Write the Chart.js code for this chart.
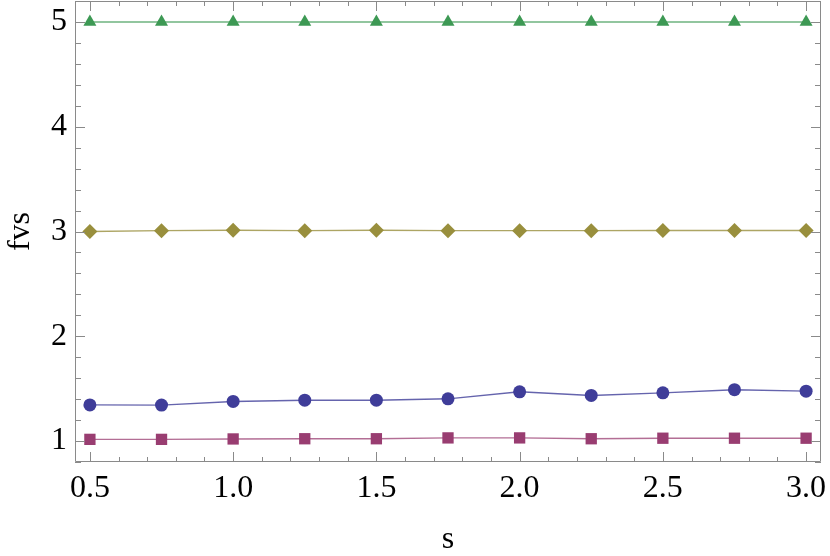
<!DOCTYPE html>
<html>
<head>
<meta charset="utf-8">
<script src="https://cdn.jsdelivr.net/npm/chart.js@4"></script>
<style>
  html, body { margin: 0; padding: 0; background: #fff; }
  #wrap { width: 830px; height: 556px; }
</style>
</head>
<body>
<div id="wrap"><canvas id="myChart" width="830" height="556"></canvas></div>
<script>
// data
const sValues = [0.5, 0.75, 1.0, 1.25, 1.5, 1.75, 2.0, 2.25, 2.5, 2.75, 3.0];
const circleSeries = [1.345, 1.343, 1.378, 1.39, 1.39, 1.403, 1.47, 1.435, 1.46, 1.49, 1.476];
const squareSeries = [1.016, 1.016, 1.02, 1.022, 1.022, 1.03, 1.03, 1.022, 1.027, 1.027, 1.027];
const diamondSeries = [3.0, 3.008, 3.012, 3.008, 3.012, 3.008, 3.008, 3.008, 3.01, 3.01, 3.01];
const triangleSeries = [5, 5, 5, 5, 5, 5, 5, 5, 5, 5, 5];

const xTickLabels = [0.5, 1.0, 1.5, 2.0, 2.5, 3.0];
const yTickLabels = [1, 2, 3, 4, 5];
const xMinorStep = 0.1;
const yMinorStep = 0.2;

const fontFamily = "'Liberation Serif', 'DejaVu Serif', serif";

function toPoints(values) {
  return sValues.map((s, i) => ({ x: s, y: values[i] }));
}

function makeDataset(label, values, color, lineColor, style, radius) {
  return {
    label: label,
    data: toPoints(values),
    borderColor: lineColor,
    borderWidth: 1.4,
    backgroundColor: color,
    pointBackgroundColor: color,
    pointBorderColor: color,
    pointBorderWidth: 0,
    pointStyle: style,
    pointRadius: radius,
    pointHoverRadius: radius,
    tension: 0,
    clip: false
  };
}

// kill the label overflow padding so the frame sits where we want it
function noPadding(scale) {
  scale.paddingTop = 0;
  scale.paddingBottom = 0;
  scale.paddingLeft = 0;
  scale.paddingRight = 0;
}

// frame with inward ticks on all four sides (Mathematica look)
const frameTicks = {
  id: 'frameTicks',
  afterDatasetsDraw(chart) {
    const { ctx, chartArea, scales } = chart;
    const { left, right, top, bottom } = chartArea;
    ctx.save();
    ctx.strokeStyle = '#8a8a8a';
    ctx.lineWidth = 1;
    ctx.beginPath();
    ctx.rect(left + 0.5, top + 0.5, right - left - 1, bottom - top - 1);
    ctx.stroke();

    ctx.beginPath();
    const xs = scales.x;
    for (let v = Math.ceil(xs.min / xMinorStep) * xMinorStep; v <= xs.max + 1e-9; v += xMinorStep) {
      const isMajor = xTickLabels.some(t => Math.abs(t - v) < 1e-6);
      const len = isMajor ? 10 : 5;
      const px = Math.round(xs.getPixelForValue(v)) + 0.5;
      ctx.moveTo(px, bottom);
      ctx.lineTo(px, bottom - len);
      ctx.moveTo(px, top);
      ctx.lineTo(px, top + len);
    }
    const ys = scales.y;
    for (let v = Math.ceil(ys.min / yMinorStep - 1e-9) * yMinorStep; v <= ys.max + 1e-9; v += yMinorStep) {
      const isMajor = yTickLabels.some(t => Math.abs(t - v) < 1e-6);
      const len = isMajor ? 10 : 6;
      const py = Math.round(ys.getPixelForValue(v)) + 0.5;
      ctx.moveTo(left, py);
      ctx.lineTo(left + len, py);
      ctx.moveTo(right, py);
      ctx.lineTo(right - len, py);
    }
    ctx.stroke();
    ctx.restore();
  }
};

const config = {
  type: 'line',
  data: {
    datasets: [
      makeDataset('circles', circleSeries, '#3f3d99', 'rgba(63, 61, 153, 0.8)', 'circle', 6.5),
      makeDataset('squares', squareSeries, '#993d71', 'rgba(153, 61, 113, 0.75)', 'rect', 8),
      makeDataset('diamonds', diamondSeries, '#998f3d', 'rgba(153, 143, 61, 0.8)', 'rectRot', 7.5),
      makeDataset('triangles', triangleSeries, '#3d9954', 'rgba(61, 153, 84, 0.75)', 'triangle', 7.5)
    ]
  },
  options: {
    responsive: false,
    animation: false,
    layout: {
      autoPadding: false,
      padding: { top: 1, right: 9, left: 0, bottom: 0 }
    },
    plugins: {
      legend: { display: false },
      tooltip: { enabled: false }
    },
    scales: {
      x: {
        type: 'linear',
        min: 0.448,
        max: 3.052,
        grid: { display: false, drawTicks: false },
        border: { display: false },
        afterBuildTicks: scale => {
          scale.ticks = xTickLabels.map(v => ({ value: v }));
        },
        afterFit: scale => {
          scale.height = 94;
          noPadding(scale);
        },
        ticks: {
          padding: 7,
          color: '#000',
          maxRotation: 0,
          autoSkip: false,
          font: { family: fontFamily, size: 32 },
          callback: v => Number(v).toFixed(1)
        },
        title: {
          display: true,
          text: 's',
          color: '#000',
          padding: { top: 0, bottom: 0 },
          font: { family: fontFamily, size: 32, lineHeight: 1 }
        }
      },
      y: {
        type: 'linear',
        min: 0.8,
        max: 5.2,
        grid: { display: false, drawTicks: false },
        border: { display: false },
        afterBuildTicks: scale => {
          scale.ticks = yTickLabels.map(v => ({ value: v }));
        },
        afterFit: scale => {
          scale.width = 75;
          noPadding(scale);
        },
        ticks: {
          padding: 8,
          color: '#000',
          autoSkip: false,
          font: { family: fontFamily, size: 32 },
          callback: v => String(v)
        },
        title: {
          display: true,
          text: 'fvs',
          color: '#000',
          padding: { top: 5, bottom: 0 },
          font: { family: fontFamily, size: 32, lineHeight: 1 }
        }
      }
    }
  },
  plugins: [frameTicks]
};

const ctx = document.getElementById('myChart').getContext('2d');
const myChart = new Chart(ctx, config);
</script>
</body>
</html>
